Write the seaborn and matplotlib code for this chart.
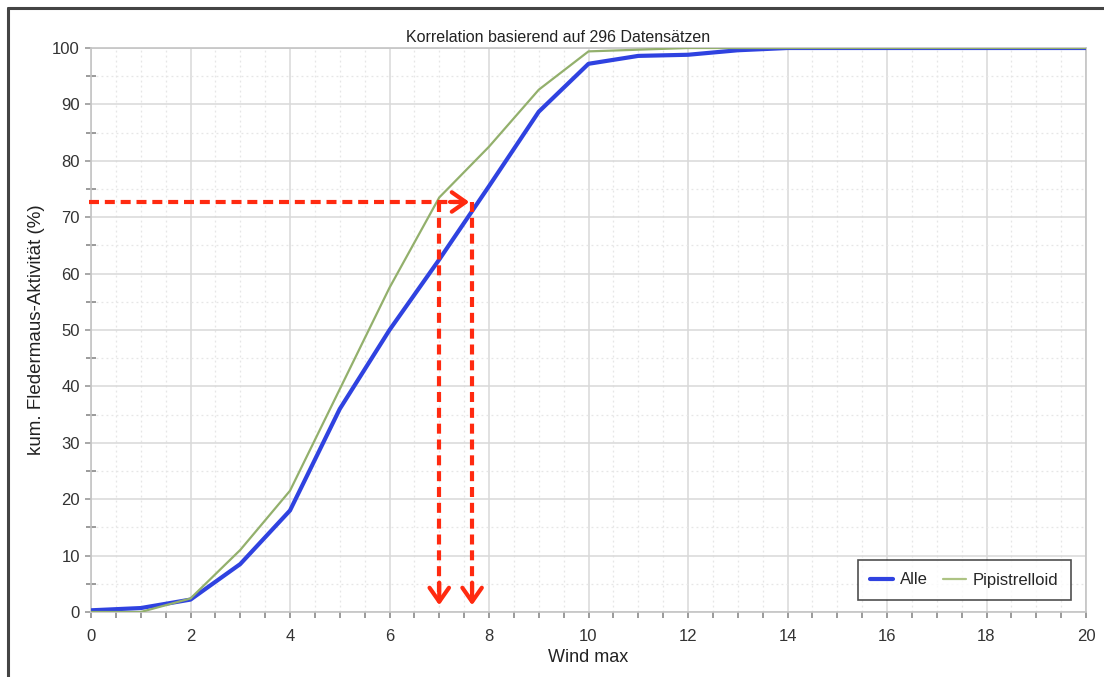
import numpy as np
import pandas as pd
import matplotlib
matplotlib.use("Agg")
import matplotlib.pyplot as plt
from matplotlib.lines import Line2D
import seaborn as sns

# ---- data ----
wind = list(range(0, 21))
alle = [0.3, 0.7, 2.2, 8.5, 18.0, 36.0, 50.0, 62.5, 75.5, 88.7, 97.2, 98.6, 98.8, 99.6, 100, 100, 100, 100, 100, 100, 100]
pipistrelloid = [0.0, 0.0, 2.4, 11.0, 21.5, 39.5, 57.5, 73.5, 82.5, 92.6, 99.4, 99.7, 100, 100, 100, 100, 100, 100, 100, 100, 100]
series_names = ["Alle", "Pipistrelloid"]
title = "Korrelation basierend auf 296 Datensätzen"
xlabel = "Wind max"
ylabel = "kum. Fledermaus-Aktivität (%)"
# annotation values (red arrows)
level_y = 72.7
arrow_x = [7.0, 7.66]
arrow_tip_y = 0.7

df = pd.DataFrame({
    "wind": wind * 2,
    "value": alle + pipistrelloid,
    "series": [series_names[0]] * len(wind) + [series_names[1]] * len(wind),
})

sns.set_style("white")
plt.rcParams["font.family"] = ["Liberation Sans", "DejaVu Sans"]

fig = plt.figure(figsize=(11.04, 6.77), dpi=100)
ax = fig.add_axes([91 / 1104, 1 - 612 / 677, (1086 - 91) / 1104, (612 - 48) / 677])

palette = {"Alle": "#2f42e0", "Pipistrelloid": "#93b06c"}
sns.lineplot(data=df, x="wind", y="value", hue="series", palette=palette,
             size="series", sizes={"Alle": 3.0, "Pipistrelloid": 1.6},
             ax=ax, legend=False, zorder=3)

ax.set_xlim(0, 20)
ax.set_ylim(0, 100)
ax.set_xticks(np.arange(0, 21, 2))
ax.set_xticks(np.arange(0, 20.01, 0.5), minor=True)
ax.set_yticks(np.arange(0, 101, 10))
ax.set_yticks(np.arange(0, 100.01, 5), minor=True)
ax.grid(which="major", color="#d8d8d8", lw=1.1, ls="-")
ax.grid(which="minor", color="#e6e6e6", lw=0.9, ls=(0, (1.5, 2.5)))
ax.set_axisbelow(True)
for s in ax.spines.values():
    s.set_color("#c4c4c4")
    s.set_linewidth(1.2)
ax.tick_params(which="both", bottom=True, left=True, top=False, right=False)
ax.tick_params(axis="x", which="both", direction="out", length=4.5, width=1.2,
               color="#8a8a8a")
ax.tick_params(axis="x", which="major", labelsize=12, labelcolor="#333333", pad=8)
ax.tick_params(axis="y", which="major", direction="out", length=4, width=1.2,
               color="#9a9a9a", labelsize=12, labelcolor="#333333", pad=4)
ax.tick_params(axis="y", which="minor", direction="inout", length=7, width=1.2,
               color="#8a8a8a")

ax.set_xlabel(xlabel, fontsize=13, color="#222222", labelpad=3)
ax.set_ylabel(ylabel, fontsize=13.5, color="#222222", labelpad=5)
ax.text((558 - 91) / 995, 1.006, title, transform=ax.transAxes, ha="center",
        va="bottom", fontsize=11.5, color="#222222")

handles = [Line2D([], [], color=palette["Alle"], lw=3),
           Line2D([], [], color="#adc383", lw=1.6)]
leg = ax.legend(handles, series_names, loc="lower right", ncol=2,
                bbox_to_anchor=(1 - 15 / 995, 12 / 564), frameon=True, fancybox=False,
                edgecolor="#222222", fontsize=12, handlelength=1.4,
                columnspacing=0.9, borderpad=0.75, handletextpad=0.4,
                borderaxespad=0)
leg.get_frame().set_linewidth(1.2)
leg.set_zorder(5)

# red dashed arrows
red = "#ff2a10"
dash = (0, (2.4, 1.4))
head = "->,head_length=1.0,head_width=0.7"
ax.plot([-0.05, arrow_x[1] - 0.1], [level_y, level_y], color=red, lw=3, ls=dash,
        zorder=6, clip_on=False)
ax.annotate("", xy=(arrow_x[1], level_y), xytext=(arrow_x[1] - 0.5, level_y),
            arrowprops=dict(arrowstyle=head, color=red, lw=3), zorder=7)
for xa in arrow_x:
    ax.plot([xa, xa], [level_y, arrow_tip_y + 1], color=red, lw=3, ls=dash, zorder=6)
    ax.annotate("", xy=(xa, arrow_tip_y), xytext=(xa, arrow_tip_y + 5),
                arrowprops=dict(arrowstyle=head, color=red, lw=3), zorder=7)

# screenshot frame lines
fig.add_artist(Line2D([8 / 1104, 1], [1 - 8 / 677, 1 - 8 / 677], color="#444444", lw=2.2,
                      transform=fig.transFigure))
fig.add_artist(Line2D([8 / 1104, 8 / 1104], [0, 1 - 8 / 677], color="#444444", lw=2.2,
                      transform=fig.transFigure))

fig.savefig("out.png", dpi=100, facecolor="white")
